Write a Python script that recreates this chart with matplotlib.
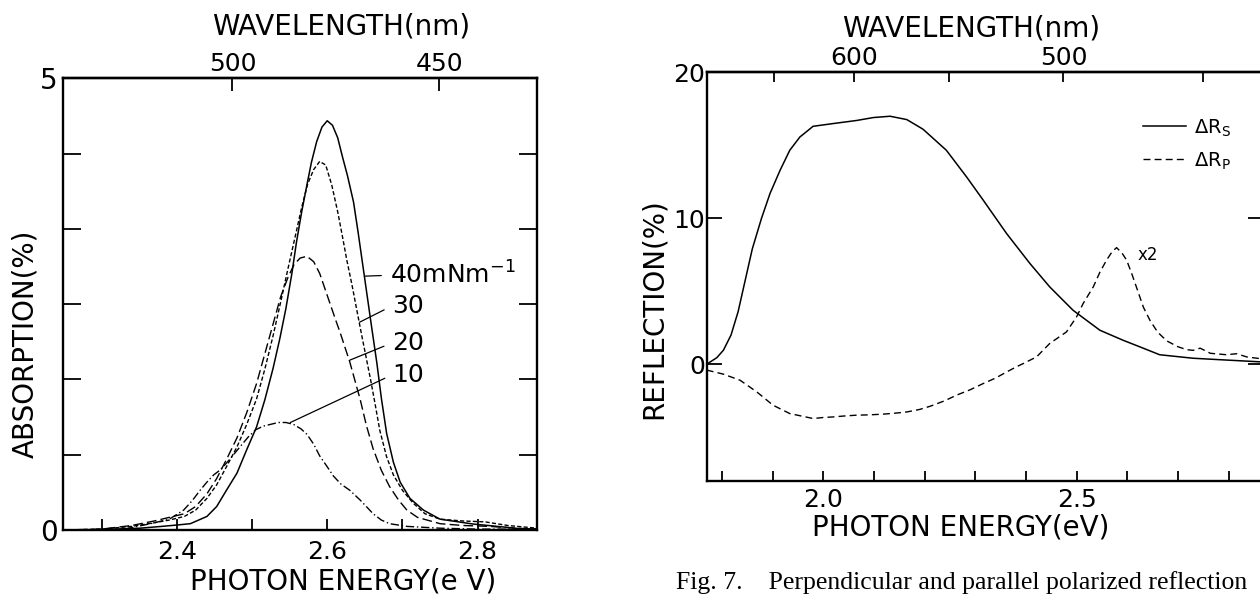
import numpy as np
import matplotlib
matplotlib.use("Agg")
import matplotlib.pyplot as plt
from matplotlib.ticker import NullLocator

# Absorption / reflection spectra of a dye monolayer (two panels + caption)

HC = 1237.0  # eV*nm, as used for the wavelength scale of the original

# --- left panel: absorption at four surface pressures ---
e_40 = [2.25, 2.30, 2.351, 2.38, 2.40, 2.418, 2.44, 2.453, 2.466, 2.48, 2.493, 2.506,
        2.517, 2.528, 2.537, 2.545, 2.553, 2.559, 2.566, 2.573, 2.579, 2.586, 2.593,
        2.600, 2.607, 2.614, 2.620, 2.627, 2.635, 2.641, 2.647, 2.653, 2.659, 2.666,
        2.672, 2.679, 2.688, 2.697, 2.710, 2.728, 2.75, 2.794, 2.83, 2.856, 2.879]
a_40 = [0.0, 0.005, 0.02, 0.04, 0.055, 0.07, 0.15, 0.26, 0.44, 0.63, 0.89, 1.14,
        1.44, 1.79, 2.12, 2.45, 2.84, 3.18, 3.52, 3.82, 4.07, 4.30, 4.46,
        4.53, 4.48, 4.34, 4.14, 3.92, 3.63, 3.30, 2.95, 2.60, 2.25, 1.85,
        1.46, 1.07, 0.75, 0.53, 0.35, 0.22, 0.12, 0.066, 0.037, 0.015, 0.01]

e_30 = [2.25, 2.30, 2.34, 2.37, 2.39, 2.41, 2.425, 2.44, 2.453, 2.466, 2.48, 2.493,
        2.506, 2.517, 2.528, 2.538, 2.548, 2.558, 2.566, 2.574, 2.582, 2.590, 2.598,
        2.606, 2.614, 2.620, 2.626, 2.633, 2.639, 2.646, 2.652, 2.658, 2.664, 2.670,
        2.679, 2.688, 2.700, 2.714, 2.73, 2.75, 2.78, 2.81, 2.84, 2.879]
a_30 = [0.0, 0.01, 0.04, 0.08, 0.11, 0.15, 0.22, 0.35, 0.50, 0.70, 0.92, 1.17,
        1.45, 1.78, 2.15, 2.52, 2.90, 3.27, 3.57, 3.83, 3.99, 4.08, 4.04,
        3.82, 3.52, 3.26, 2.99, 2.71, 2.45, 2.15, 1.90, 1.65, 1.38, 1.10,
        0.81, 0.61, 0.44, 0.30, 0.18, 0.12, 0.10, 0.09, 0.05, 0.02]

e_20 = [2.25, 2.30, 2.34, 2.37, 2.39, 2.41, 2.425, 2.44, 2.453, 2.466, 2.48, 2.493,
        2.506, 2.517, 2.528, 2.538, 2.548, 2.556, 2.564, 2.573, 2.582, 2.590, 2.597,
        2.604, 2.611, 2.617, 2.630, 2.644, 2.652, 2.661, 2.672, 2.683, 2.695, 2.706,
        2.72, 2.75, 2.78, 2.816, 2.85, 2.879]
a_20 = [0.0, 0.01, 0.05, 0.10, 0.14, 0.18, 0.26, 0.40, 0.57, 0.78, 1.02, 1.30,
        1.62, 1.95, 2.28, 2.58, 2.80, 2.94, 3.01, 3.03, 2.97, 2.84, 2.67,
        2.50, 2.33, 2.19, 1.86, 1.44, 1.16, 0.90, 0.66, 0.48, 0.33, 0.22,
        0.14, 0.07, 0.05, 0.04, 0.02, 0.01]

e_10 = [2.25, 2.30, 2.33, 2.365, 2.39, 2.409, 2.42, 2.431, 2.44, 2.449, 2.457, 2.466,
        2.475, 2.484, 2.495, 2.505, 2.515, 2.525, 2.535, 2.545, 2.555, 2.565, 2.573,
        2.582, 2.590, 2.600, 2.608, 2.618, 2.630, 2.644, 2.652, 2.661, 2.672, 2.683,
        2.706, 2.75, 2.80, 2.879]
a_10 = [0.0, 0.0, 0.01, 0.07, 0.12, 0.22, 0.32, 0.44, 0.53, 0.61, 0.66, 0.74,
        0.83, 0.92, 1.03, 1.11, 1.15, 1.17, 1.19, 1.19, 1.17, 1.12, 1.06,
        0.95, 0.82, 0.70, 0.60, 0.51, 0.44, 0.33, 0.26, 0.18, 0.11, 0.07,
        0.04, 0.02, 0.01, 0.01]

pressure_labels = ["40mNm$^{-1}$", "30", "20", "10"]

# --- right panel: polarized reflection ---
e_rs = [1.770, 1.790, 1.803, 1.818, 1.832, 1.845, 1.860, 1.878, 1.895, 1.915, 1.934,
        1.954, 1.980, 2.020, 2.066, 2.099, 2.132, 2.165, 2.197, 2.243, 2.283, 2.316,
        2.362, 2.408, 2.447, 2.493, 2.546, 2.592, 2.625, 2.664, 2.730, 2.783, 2.870]
r_s = [0.0, 0.45, 0.96, 2.0, 3.6, 5.6, 7.9, 9.98, 11.7, 13.3, 14.66,
       15.57, 16.3, 16.49, 16.7, 16.9, 16.99, 16.76, 16.1, 14.66, 12.83, 11.23,
       8.95, 6.9, 5.3, 3.7, 2.33, 1.64, 1.19, 0.65, 0.41, 0.31, 0.15]

e_rp = [1.770, 1.803, 1.836, 1.869, 1.901, 1.934, 1.980, 2.000, 2.020, 2.040, 2.066,
        2.090, 2.118, 2.140, 2.165, 2.190, 2.211, 2.240, 2.263, 2.290, 2.316, 2.340,
        2.362, 2.380, 2.395, 2.421, 2.447, 2.480, 2.500, 2.513, 2.533, 2.546, 2.559,
        2.570, 2.579, 2.590, 2.599, 2.610, 2.618, 2.632, 2.645, 2.660, 2.678, 2.700,
        2.717, 2.730, 2.744, 2.764, 2.796, 2.816, 2.836, 2.870]
r_p = [-0.40, -0.68, -1.10, -1.90, -2.81, -3.38, -3.72, -3.65, -3.61, -3.55, -3.49,
       -3.47, -3.42, -3.36, -3.27, -3.10, -2.88, -2.50, -2.12, -1.75, -1.32, -0.95,
       -0.53, -0.20, 0.05, 0.50, 1.42, 2.21, 3.24, 4.16, 5.30, 6.30, 7.12,
       7.70, 7.99, 7.60, 7.12, 6.10, 5.30, 3.90, 3.00, 2.20, 1.60, 1.20,
       1.00, 0.95, 1.10, 0.75, 0.65, 0.72, 0.50, 0.35]


def ev_to_nm(e):
    e = np.asarray(e, dtype=float)
    with np.errstate(divide="ignore", invalid="ignore"):
        return HC / e


plt.rcParams["font.family"] = "DejaVu Sans"
fig = plt.figure(figsize=(12.6, 5.95), dpi=100)
W, H = 1260.0, 595.0

# ---------------- left panel ----------------
ax1 = fig.add_axes([63.3 / W, 1 - 530 / H, (537 - 63.3) / W, (530 - 78.3) / H])
ax1.plot(e_40, a_40, color="k", lw=1.1)
ax1.plot(e_30, a_30, color="k", lw=1.0, ls=(0, (3, 1.6)))
ax1.plot(e_20, a_20, color="k", lw=1.0, ls=(0, (7, 3)))
ax1.plot(e_10, a_10, color="k", lw=1.0, ls=(0, (6, 2, 1, 2)))

# leader lines to the pressure labels
pointers = [(2.650, 2.81), (2.643, 2.30), (2.630, 1.88), (2.551, 1.19)]
text_pos = [(2.683, 2.82), (2.686, 2.48), (2.686, 2.07), (2.687, 1.72)]
for lab, xy, xt in zip(pressure_labels, pointers, text_pos):
    ax1.annotate(lab, xy=xy, xytext=xt, fontsize=18, ha="left", va="center",
                 arrowprops=dict(arrowstyle="-", color="k", lw=0.9,
                                 relpos=(0, 0.5), shrinkA=4, shrinkB=0))

ax1.set_xlim(2.249, 2.879)
ax1.set_ylim(0, 5)
ax1.set_xticks([2.3, 2.4, 2.5, 2.6, 2.7, 2.8], labels=["", "2.4", "", "2.6", "", "2.8"])
ax1.set_yticks(np.linspace(0, 5, 7), labels=["0", "", "", "", "", "", "5"])
ax1.tick_params(axis="x", direction="in", length=8, width=1.3, labelsize=18, pad=7)
ax1.tick_params(axis="y", direction="in", length=13, width=1.3, labelsize=20, pad=4,
                right=True)
for sp in ax1.spines.values():
    sp.set_linewidth(1.7)

sec1 = ax1.secondary_xaxis("top", functions=(ev_to_nm, ev_to_nm))
sec1.set_xticks([500, 450], labels=["500", "450"])
sec1.xaxis.set_minor_locator(NullLocator())
sec1.tick_params(direction="in", length=9, width=1.3, labelsize=18, pad=2)
sec1.spines["top"].set_linewidth(1.7)

ax1.set_xlabel("PHOTON ENERGY(e V)", fontsize=20)
ax1.xaxis.set_label_coords(0.590, -0.1145)
ax1.xaxis.label.set_va("center")
ax1.set_ylabel("ABSORPTION(%)", fontsize=20)
ax1.yaxis.set_label_coords(-0.081, 0.412)
ax1.yaxis.label.set_va("center")
ax1.text(0.586, 1.114, "WAVELENGTH(nm)", transform=ax1.transAxes, fontsize=20,
         ha="center", va="center")

# ---------------- right panel ----------------
ax2 = fig.add_axes([706.7 / W, 1 - 481 / H, (1263 - 706.7) / W, (481 - 72.3) / H])
ax2.plot(e_rs, r_s, color="k", lw=1.1, label="ΔR$_{\\rm S}$")
ax2.plot(e_rp, r_p, color="k", lw=1.0, ls=(0, (5, 3)), label="ΔR$_{\\rm P}$")
ax2.text(2.621, 7.45, "x2", fontsize=12, ha="left", va="center")
ax2.legend(loc="upper left", bbox_to_anchor=(0.785, 0.89), frameon=False, fontsize=14,
           handlelength=2.2, handletextpad=0.4, labelspacing=0.6, borderpad=0,
           borderaxespad=0)

ax2.set_xlim(1.77, 2.868)
ax2.set_ylim(-8, 20)
ax2.set_xticks([1.8, 1.9, 2.0, 2.1, 2.2, 2.3, 2.4, 2.5, 2.6, 2.7, 2.8],
               labels=["", "", "2.0", "", "", "", "", "2.5", "", "", ""])
ax2.set_yticks([0, 10, 20], labels=["0", "10", "20"])
ax2.tick_params(axis="x", direction="in", length=7, width=1.3, labelsize=18, pad=5)
ax2.tick_params(axis="y", direction="in", length=11, width=1.3, labelsize=18, pad=1,
                right=True)
for sp in ax2.spines.values():
    sp.set_linewidth(1.7)

sec2 = ax2.secondary_xaxis("top", functions=(ev_to_nm, ev_to_nm))
sec2.set_xticks([650, 600, 550, 500, 450], labels=["", "600", "", "500", ""])
sec2.xaxis.set_minor_locator(NullLocator())
sec2.tick_params(direction="in", length=7, width=1.3, labelsize=18, pad=2)
sec2.spines["top"].set_linewidth(1.7)

ax2.set_xlabel("PHOTON ENERGY(eV)", fontsize=20)
ax2.xaxis.set_label_coords(0.456, -0.1126)
ax2.xaxis.label.set_va("center")
ax2.set_ylabel("REFLECTION(%)", fontsize=20)
ax2.yaxis.set_label_coords(-0.095, 0.421)
ax2.yaxis.label.set_va("center")
ax2.text(0.475, 1.108, "WAVELENGTH(nm)", transform=ax2.transAxes, fontsize=20,
         ha="center", va="center")

fig.text(676 / W, 1 - 583 / H, "Fig. 7.    Perpendicular and parallel polarized reflection",
         family="Liberation Serif", fontsize=18.5, va="center", ha="left")

fig.savefig("out.png", dpi=100)
